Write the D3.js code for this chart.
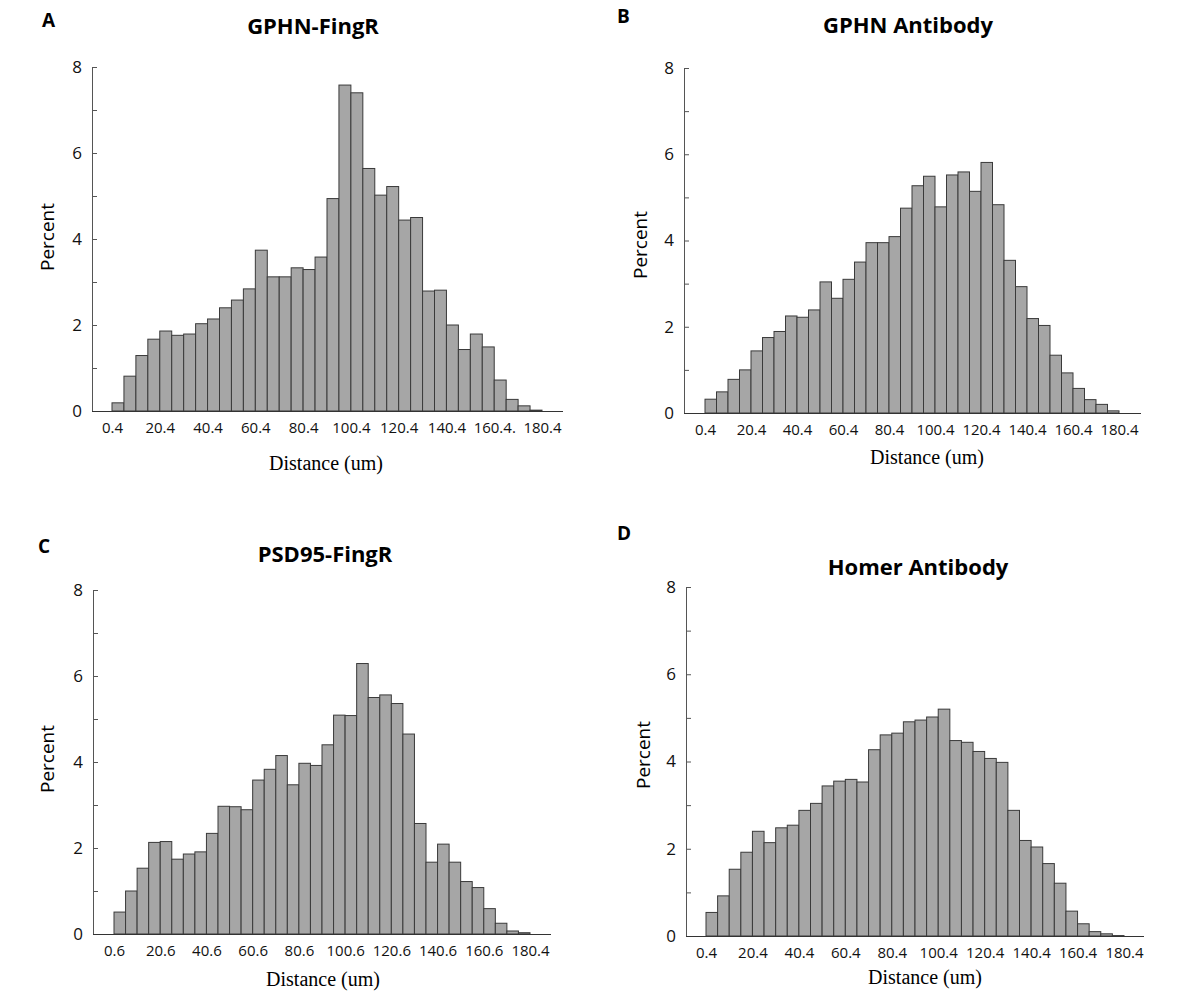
<!DOCTYPE html>
<html lang="en">
<head>
<meta charset="UTF-8">
<title>Distance histograms</title>
<script src="https://d3js.org/d3.v7.min.js"></script>
<style>
  body { margin: 0; background: #fff; }
  svg { display: block; }
</style>
</head>
<body>
<script>
// bin starts (5 um bins)
var binsA = [0.4, 5.4, 10.4, 15.4, 20.4, 25.4, 30.4, 35.4, 40.4, 45.4, 50.4, 55.4,
             60.4, 65.4, 70.4, 75.4, 80.4, 85.4, 90.4, 95.4, 100.4, 105.4, 110.4, 115.4,
             120.4, 125.4, 130.4, 135.4, 140.4, 145.4, 150.4, 155.4, 160.4, 165.4, 170.4, 175.4];
var binsC = [0.6, 5.6, 10.6, 15.6, 20.6, 25.6, 30.6, 35.6, 40.6, 45.6, 50.6, 55.6,
             60.6, 65.6, 70.6, 75.6, 80.6, 85.6, 90.6, 95.6, 100.6, 105.6, 110.6, 115.6,
             120.6, 125.6, 130.6, 135.6, 140.6, 145.6, 150.6, 155.6, 160.6, 165.6, 170.6, 175.6];

// percent per bin
var gphnFingR = [0.19, 0.81, 1.29, 1.67, 1.86, 1.76, 1.79, 2.03, 2.14, 2.40, 2.58, 2.84,
                 3.74, 3.12, 3.12, 3.33, 3.29, 3.58, 4.94, 7.58, 7.40, 5.64, 5.02, 5.22,
                 4.44, 4.50, 2.79, 2.81, 2.00, 1.43, 1.79, 1.49, 0.72, 0.27, 0.12, 0.02];
var gphnAntibody = [0.32, 0.49, 0.78, 1.00, 1.44, 1.75, 1.89, 2.25, 2.22, 2.39, 3.04, 2.66,
                    3.10, 3.50, 3.95, 3.95, 4.09, 4.75, 5.27, 5.49, 4.78, 5.52, 5.59, 5.14,
                    5.81, 4.83, 3.54, 2.93, 2.19, 2.03, 1.34, 0.93, 0.57, 0.31, 0.20, 0.05];
var psd95FingR = [0.51, 1.00, 1.53, 2.13, 2.15, 1.74, 1.86, 1.91, 2.34, 2.97, 2.96, 2.89,
                  3.58, 3.83, 4.15, 3.47, 3.97, 3.92, 4.40, 5.09, 5.08, 6.29, 5.50, 5.56,
                  5.36, 4.65, 2.57, 1.67, 2.09, 1.67, 1.22, 1.08, 0.59, 0.25, 0.07, 0.03];
var homerAntibody = [0.54, 0.92, 1.53, 1.92, 2.40, 2.14, 2.48, 2.54, 2.88, 3.04, 3.44, 3.55,
                     3.59, 3.53, 4.27, 4.61, 4.65, 4.91, 4.95, 5.02, 5.20, 4.48, 4.44, 4.23,
                     4.07, 3.98, 2.88, 2.19, 2.04, 1.66, 1.21, 0.57, 0.28, 0.10, 0.05, 0.01];

// x tick positions and labels (labels as printed, typos included)
var tickValsA = [0.4, 20.4, 40.4, 60.4, 80.4, 100.4, 120.4, 140.4, 160.4, 180.4];
var tickValsC = [0.6, 20.6, 40.6, 60.6, 80.6, 100.6, 120.6, 140.6, 160.6, 180.6];
var tickLabelsA = ["0.4", "20.4", "40.4", "60.4", "80.4", "100.4", "120.4", "140.4", "160.4.", "180.4"];
var tickLabelsB = ["0.4", "20.4", "40.4", "60.4", "80.4", "100.4", "120.4", "140.4", "160.4", "180.4"];
var tickLabelsC = ["0.6", "20.6", "40.6", "60.6", "80.6", "100.6", "120.6", "140.6", "160.6", "180.4"];
var tickLabelsD = tickLabelsB;

var yTicks = [0, 1, 2, 3, 4, 5, 6, 7, 8];

var panels = [
  { letter: "A", title: "GPHN-FingR", bins: binsA, values: gphnFingR, tv: tickValsA, tl: tickLabelsA,
    ax: 92, y0: 411, y8: 67, x0: 112, x1: 542, xEnd: 563,
    letterPos: [42, 27], titlePos: [313, 34], yLab: [47, 237], xLab: [326, 470] },
  { letter: "B", title: "GPHN Antibody", bins: binsA, values: gphnAntibody, tv: tickValsA, tl: tickLabelsB,
    ax: 684, y0: 413, y8: 68, x0: 705, x1: 1119, xEnd: 1141,
    letterPos: [617, 23], titlePos: [908, 33], yLab: [640, 245], xLab: [927, 464] },
  { letter: "C", title: "PSD95-FingR", bins: binsC, values: psd95FingR, tv: tickValsC, tl: tickLabelsC,
    ax: 93, y0: 934, y8: 590, x0: 114, x1: 530, xEnd: 551,
    letterPos: [38, 553], titlePos: [325, 562], yLab: [47, 759], xLab: [323, 986] },
  { letter: "D", title: "Homer Antibody", bins: binsA, values: homerAntibody, tv: tickValsA, tl: tickLabelsD,
    ax: 686, y0: 936, y8: 587, x0: 706, x1: 1124, xEnd: 1144,
    letterPos: [617, 540], titlePos: [918, 575], yLab: [643, 755], xLab: [925, 984] }
];

var svg = d3.select("body").append("svg")
    .attr("width", 1194)
    .attr("height", 993);

var sans = "'Open Sans', 'Noto Sans', sans-serif";
var serif = "'Liberation Serif', 'DejaVu Serif', serif";

panels.forEach(function(p) {
    var g = svg.append("g");
    var first = p.bins[0];
    var x = d3.scaleLinear().domain([first, first + 180]).range([p.x0, p.x1]);
    var y = d3.scaleLinear().domain([0, 8]).range([p.y0, p.y8]);
    var data = p.bins.map(function(b, i) { return { b: b, v: p.values[i] }; });

    // bars
    g.selectAll("rect")
        .data(data)
        .enter()
        .append("rect")
        .attr("x", function(d) { return x(d.b); })
        .attr("width", function(d) { return x(d.b + 5) - x(d.b); })
        .attr("y", function(d) { return y(d.v); })
        .attr("height", function(d) { return y(0) - y(d.v); })
        .style("fill", "#a6a6a6")
        .style("stroke", "#3a3a3a")
        .style("stroke-width", 1);

    // y axis, ticks pointing inward
    var yAxis = d3.axisLeft(y)
        .tickValues(yTicks)
        .tickSizeInner(-5)
        .tickSizeOuter(0)
        .tickPadding(10)
        .tickFormat(function(d) { return d % 2 === 0 ? d : ""; });
    var ya = g.append("g")
        .attr("transform", "translate(" + p.ax + ",0)")
        .call(yAxis);
    ya.selectAll("line, path").attr("stroke", "#555");
    ya.selectAll("text").style("font-family", sans).style("font-size", "17px").attr("fill", "#111");

    // x axis labels only
    var xAxis = d3.axisBottom(x)
        .tickValues(p.tv)
        .tickSize(0)
        .tickPadding(11)
        .tickFormat(function(d, i) { return p.tl[i]; });
    var xa = g.append("g")
        .attr("transform", "translate(0," + p.y0 + ")")
        .call(xAxis);
    xa.select(".domain").remove();
    xa.selectAll("text").style("font-family", sans).style("font-size", "15px").attr("fill", "#111");

    // baseline running past the last bin
    g.append("line")
        .attr("x1", p.ax).attr("x2", p.xEnd)
        .attr("y1", p.y0 + 0.5).attr("y2", p.y0 + 0.5)
        .attr("stroke", "#333")
        .attr("stroke-width", 1.2);

    // texts
    g.append("text")
        .attr("x", p.letterPos[0]).attr("y", p.letterPos[1])
        .text(p.letter)
        .style("font-family", sans).style("font-weight", "bold").style("font-size", "19px");
    g.append("text")
        .attr("x", p.titlePos[0]).attr("y", p.titlePos[1])
        .attr("text-anchor", "middle")
        .text(p.title)
        .style("font-family", sans).style("font-weight", "bold").style("font-size", "22px");
    g.append("text")
        .attr("transform", "translate(" + p.yLab[0] + "," + p.yLab[1] + ") rotate(-90)")
        .attr("text-anchor", "middle")
        .attr("dy", "0.35em")
        .text("Percent")
        .style("font-family", sans).style("font-size", "19px");
    g.append("text")
        .attr("x", p.xLab[0]).attr("y", p.xLab[1])
        .attr("text-anchor", "middle")
        .text("Distance (um)")
        .style("font-family", serif).style("font-size", "20px");
});
</script>
</body>
</html>
